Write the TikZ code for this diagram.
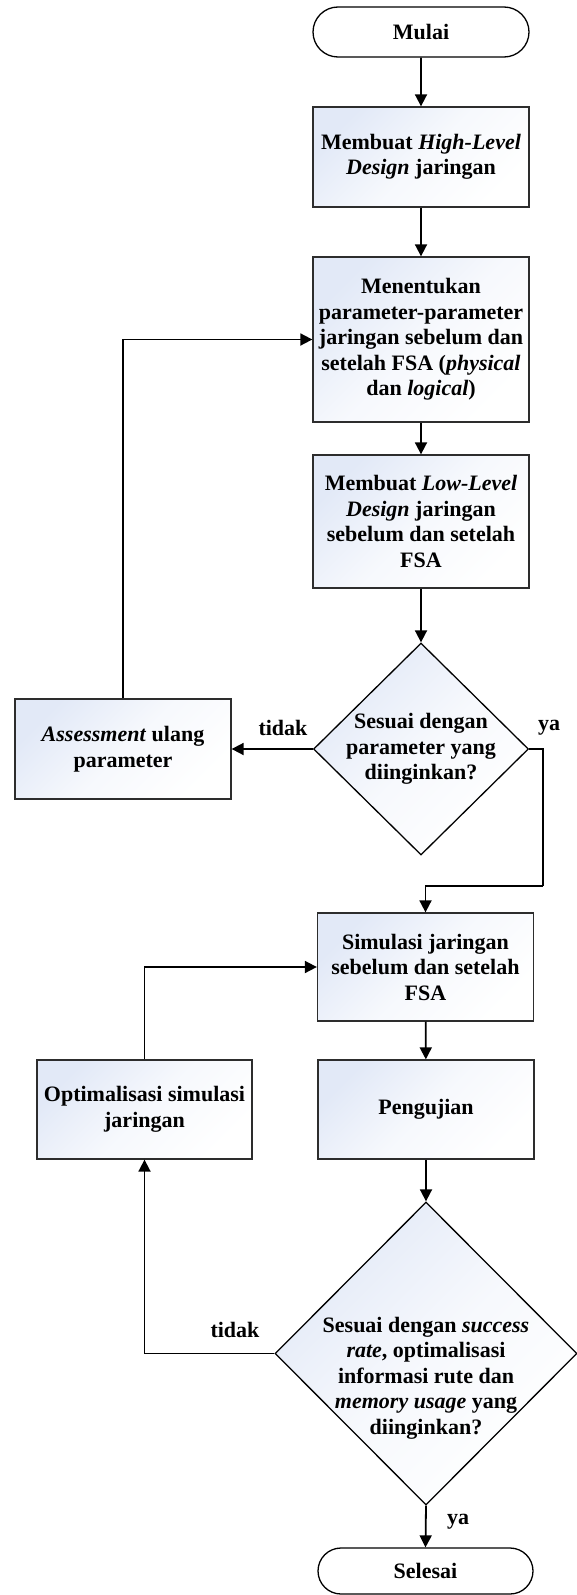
\documentclass[tikz,border=0pt]{standalone}
\usepackage{fontspec}
\setmainfont{Liberation Serif}
\usetikzlibrary{arrows.meta,shapes.geometric,shapes.misc}
\definecolor{fillblue}{RGB}{226,233,247}
\definecolor{edge}{RGB}{45,45,45}
\tikzset{
  base/.style={font=\fontsize{22}{25.5}\selectfont\bfseries, align=center, inner sep=0pt},
  proc/.style={base, rectangle, draw=edge, line width=1.3pt, minimum width=216pt,
    shade, shading=axis, top color=fillblue, bottom color=white, middle color=fillblue!30!white, shading angle=45},
  term/.style={base, rounded rectangle, draw=black, line width=1.3pt, fill=white,
    minimum width=216pt, minimum height=50pt},
  dec/.style={diamond, draw=black, line width=1.3pt, inner sep=0pt,
    shade, shading=axis, top color=fillblue, bottom color=white, middle color=fillblue!30!white, shading angle=45},
  txt/.style={base},
  lbl/.style={base},
  arr/.style={line width=1.8pt, -{Triangle[length=12pt,width=12pt]}},
  ln/.style={line width=1.8pt}
}
\begin{document}
\begin{tikzpicture}[x=1pt,y=1pt]
\useasboundingbox (0,0) rectangle (577,-1595);
\node[term] (start) at (421,-32) {Mulai};
\node[proc, minimum height=100pt] (b1) at (421,-157) {Membuat \textit{High-Level}\\\textit{Design} jaringan};
\node[proc, minimum height=165pt] (b2) at (421,-339.5) {Menentukan\\parameter-parameter\\jaringan sebelum dan\\setelah FSA (\textit{physical}\\dan \textit{logical})};
\node[proc, minimum height=133pt] (b3) at (421,-521.5) {Membuat \textit{Low-Level}\\\textit{Design} jaringan\\sebelum dan setelah\\FSA};
\node[dec, minimum width=215pt, minimum height=212pt] (d1) at (421,-749) {};
\node[txt] (d1t) at (421,-749) {Sesuai dengan\\parameter yang\\diinginkan?};
\node[proc, minimum height=100pt] (ass) at (123,-749) {\textit{Assessment} ulang\\parameter};
\node[proc, minimum height=108pt] (sim) at (425.5,-967) {Simulasi jaringan\\sebelum dan setelah\\FSA};
\node[proc, minimum height=99pt] (uji) at (426,-1109.5) {Pengujian};
\node[proc, minimum width=215pt, minimum height=99pt] (opt) at (144.5,-1109.5) {Optimalisasi simulasi\\jaringan};
\node[dec, minimum width=302pt, minimum height=303pt] (d2) at (426,-1353.5) {};
\node[txt] (d2t) at (426,-1378) {Sesuai dengan \textit{success}\\\textit{rate}, optimalisasi\\informasi rute dan\\\textit{memory usage} yang\\diinginkan?};
\node[term, minimum width=215pt, minimum height=46pt] (end) at (425.5,-1571) {Selesai};

\coordinate (c1) at (543,-886);

\draw[arr] (start) -- (b1);
\draw[arr] (b1) -- (b2);
\draw[arr] (b2) -- (b3);
\draw[arr] (b3) -- (d1);
\draw[arr] (d1.west) -- (ass.east);
\draw[arr] (ass.north) |- (b2.west);
\draw[ln] (d1.east) -| (c1);
\draw[arr] (c1) -| (sim.north);
\draw[arr] (sim) -- (uji);
\draw[arr] (uji) -- (d2);
\draw[arr] (d2.west) -| (opt.south);
\draw[arr] (opt.north) |- (sim.west);
\draw[arr] (d2.south) -- (end.north);

\node[lbl] (l1) at (283,-728) {tidak};
\node[lbl] (l2) at (549,-728) {ya};
\node[lbl] (l3) at (235,-1330) {tidak};
\node[lbl] (l4) at (458,-1522) {ya};
\end{tikzpicture}
\end{document}
